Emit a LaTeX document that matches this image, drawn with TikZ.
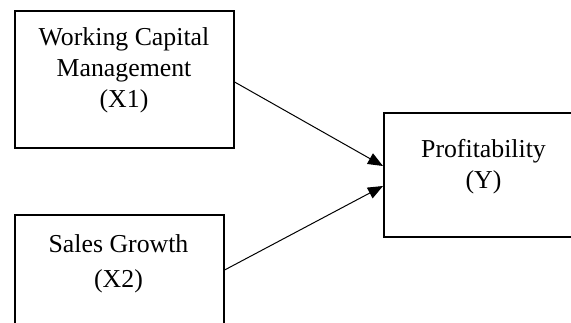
\documentclass[tikz,border=0pt]{standalone}
\usepackage{fontspec}
\setmainfont{Liberation Serif}
\usetikzlibrary{arrows.meta}
\begin{document}
\begin{tikzpicture}[x=1pt,y=-1pt,
  boxstyle/.style={draw=black,line width=1.6pt,rectangle,inner sep=0pt,anchor=north west},
  txt/.style={anchor=base,inner sep=0pt,font=\fontsize{25.8}{31}\selectfont},
  link/.style={line width=1pt,-{Triangle[length=15pt,width=12pt]}}]
\useasboundingbox (0,0) rectangle (571,322);
\clip (0,0) rectangle (571,322);
\node[boxstyle,minimum width=219pt,minimum height=137pt] (box1) at (14,10) {};
\node[boxstyle,minimum width=209pt,minimum height=130pt] (box2) at (14,214) {};
\node[boxstyle,minimum width=210pt,minimum height=124pt] (box3) at (383,112) {};
\node[txt] (t1a) at (124,45) {Working Capital};
\node[txt] (t1b) at (124,76) {Management};
\node[txt] (t1c) at (124,107) {(X1)};
\node[txt] (t2a) at (118.5,252) {Sales Growth};
\node[txt] (t2b) at (118.5,287) {(X2)};
\node[txt] (t3a) at (483.5,157) {Profitability};
\node[txt] (t3b) at (483.5,188) {(Y)};
\coordinate (s1) at (box1.east |- 0,82);
\coordinate (s2) at (box2.east |- 0,270);
\coordinate (e1) at (box3.west |- 0,166);
\coordinate (e2) at (box3.west |- 0,186);
\draw[link] (s1) -- (e1);
\draw[link] (s2) -- (e2);
\end{tikzpicture}
\end{document}
